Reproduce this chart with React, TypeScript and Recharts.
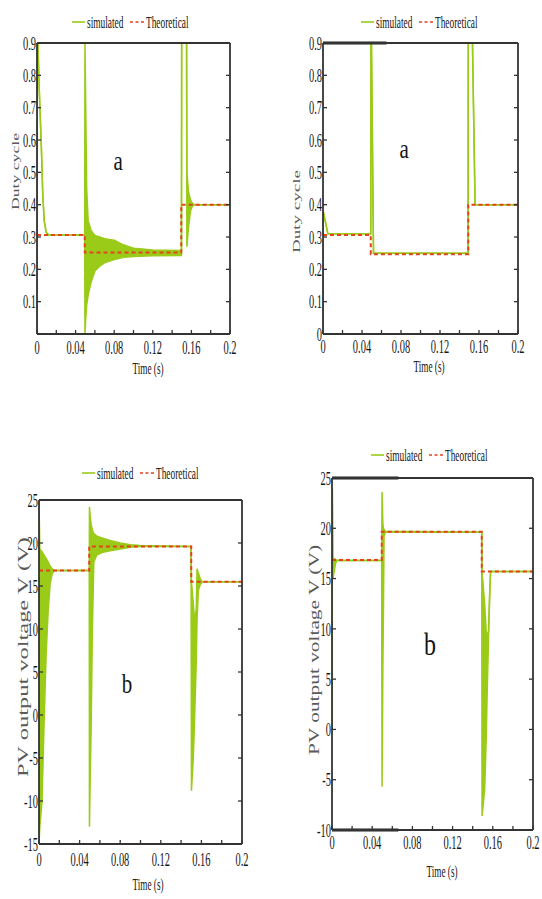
import {
  ComposedChart,
  Area,
  Line,
  XAxis,
  YAxis,
  Legend,
  Label,
  ReferenceDot,
  ReferenceLine,
} from 'recharts'

// Serif, horizontally squeezed text like the scanned figure
const FONT = '"Liberation Serif", "Times New Roman", serif'
const SX = 0.55
const TICK_FONT = 19
const TICK_LEN = 4
const INK = '#151515'
const GREEN = '#9acb18'
const RED = '#e4431e'
const FRAME = '#333'

// time axis: minor ticks every 0.02 s, labels every 0.04 s
const TIME_TICKS = [0, 0.02, 0.04, 0.06, 0.08, 0.1, 0.12, 0.14, 0.16, 0.18, 0.2]
const TIME_LABELS = ['0', '0.04', '0.08', '0.12', '0.16', '0.2']

const DUTY_TICKS = [0, 0.1, 0.2, 0.3, 0.4, 0.5, 0.6, 0.7, 0.8, 0.9]
const DUTY_LABELS_A1 = ['0.1', '0.2', '0.3', '0.4', '0.5', '0.6', '0.7', '0.8', '0.9']
const DUTY_LABELS_A2 = ['0', '0.1', '0.2', '0.3', '0.4', '0.5', '0.6', '0.7', '0.8', '0.9']
const VOLT_TICKS_B1 = [-15, -10, -5, 0, 5, 10, 15, 20, 25]
const VOLT_TICKS_B2 = [-10, -5, 0, 5, 10, 15, 20, 25]

// (a) left: duty cycle, simulated envelope (min / max of the ripple)
const SIM_A1_T = [0, 0.0003, 0.0009, 0.0024, 0.0045, 0.006, 0.0075, 0.0095, 0.012, 0.0494, 0.0497, 0.0505, 0.0515, 0.053, 0.056, 0.06, 0.065, 0.07, 0.08, 0.09, 0.1, 0.12, 0.1497, 0.1499, 0.155, 0.1553, 0.157, 0.159, 0.161, 0.163, 0.2]
const SIM_A1_LO = [0, 0.9, 0.9, 0.75, 0.58, 0.43, 0.35, 0.315, 0.306, 0.306, 0.0, 0.05, 0.09, 0.12, 0.16, 0.195, 0.21, 0.22, 0.23, 0.237, 0.24, 0.242, 0.243, 0.9, 0.9, 0.27, 0.33, 0.38, 0.395, 0.4, 0.4]
const SIM_A1_HI = [0, 0.9, 0.9, 0.75, 0.58, 0.43, 0.35, 0.315, 0.306, 0.306, 0.9, 0.7, 0.45, 0.35, 0.32, 0.305, 0.3, 0.295, 0.29, 0.275, 0.265, 0.26, 0.258, 0.9, 0.9, 0.5, 0.44, 0.415, 0.405, 0.4, 0.4]
const THEO_A1_T = [0, 0.0495, 0.1495, 0.2]
const THEO_A1_V = [0.306, 0.252, 0.4, 0.4]

// (a) right: duty cycle, proposed controller (no ripple)
const SIM_A2_T = [0, 0.0002, 0.005, 0.049, 0.0492, 0.0497, 0.0518, 0.1488, 0.149, 0.1533, 0.156, 0.2]
const SIM_A2_V = [0, 0.38, 0.31, 0.31, 0.9, 0.9, 0.25, 0.25, 0.9, 0.9, 0.4, 0.4]
const THEO_A2_T = [0, 0.049, 0.149, 0.2]
const THEO_A2_V = [0.306, 0.247, 0.4, 0.4]

// (b) left: PV voltage envelope
const SIM_B1_T = [0, 0.0008, 0.003, 0.005, 0.007, 0.009, 0.011, 0.013, 0.015, 0.0495, 0.0497, 0.0505, 0.0513, 0.0526, 0.054, 0.057, 0.062, 0.07, 0.08, 0.09, 0.1, 0.1498, 0.1502, 0.152, 0.153, 0.154, 0.155, 0.1557, 0.157, 0.159, 0.161, 0.2]
const SIM_B1_LO = [-15, -13, -10, -1, 7, 12, 15.3, 16.4, 16.8, 16.8, -13, -7, -2, 10, 17.8, 18.6, 18.9, 19.1, 19.3, 19.5, 19.6, 19.6, -8.8, -5, -1.5, 2.5, 6.5, 11, 14.5, 15.2, 15.5, 15.5]
const SIM_B1_HI = [25, 19.3, 19, 18.6, 18.2, 17.8, 17.3, 17.0, 16.8, 16.8, 24.2, 23, 22.2, 21.5, 21.1, 20.8, 20.6, 20.3, 20.0, 19.8, 19.7, 19.6, 15.5, 13, 11.5, 11.3, 12.5, 17, 16.5, 15.8, 15.5, 15.5]
const THEO_B1_T = [0, 0.0495, 0.15, 0.2]
const THEO_B1_V = [16.8, 19.6, 15.5, 15.5]

// (b) right: PV voltage envelope
const SIM_B2_T = [0, 0.0003, 0.0009, 0.002, 0.0035, 0.005, 0.0494, 0.0498, 0.0506, 0.0512, 0.0518, 0.053, 0.149, 0.1493, 0.1519, 0.1534, 0.1545, 0.1557, 0.157, 0.1578, 0.2]
const SIM_B2_LO = [0, 24, 15, 15.6, 16.5, 16.8, 16.8, -5.7, 6, 12, 19.2, 19.6, 19.6, -8.6, -6, -1, 4, 8.9, 13.5, 15.7, 15.7]
const SIM_B2_HI = [0, 24, 16.5, 17, 16.9, 16.8, 16.8, 23.6, 20.5, 20, 19.9, 19.7, 19.6, 15.7, 12.5, 9.8, 9.2, 9.8, 14, 15.7, 15.7]
const THEO_B2_T = [0, 0.0495, 0.149, 0.2]
const THEO_B2_V = [16.85, 19.66, 15.7, 15.7]

const envRows = (t: number[], lo: number[], hi: number[]) => t.map((x, i) => ({ t: x, range: [lo[i], hi[i]] }))
const theoRows = (t: number[], v: number[]) => t.map((x, i) => ({ t: x, v: v[i] }))

// ticks point into the plot on all four sides; labels only on bottom / left
const BottomTick = (p: any) => {
  const s = String(p.payload.value)
  return (
    <g>
      <line x1={p.x} x2={p.x} y1={p.y} y2={p.y - TICK_LEN} stroke={FRAME} strokeWidth={1.3} />
      {TIME_LABELS.includes(s) && (
        <text transform={`translate(${p.x},${p.y + p.dy0}) scale(${SX},1)`} textAnchor="middle" fontFamily={FONT} fontSize={TICK_FONT} fill={INK}>
          {s}
        </text>
      )}
    </g>
  )
}

const LeftTick = (p: any) => {
  const s = String(p.payload.value)
  return (
    <g>
      <line x1={p.x} x2={p.x + TICK_LEN} y1={p.y} y2={p.y} stroke={FRAME} strokeWidth={1.3} />
      {p.labels.includes(s) && (
        <text transform={`translate(${p.x - 1},${p.y}) scale(${SX},1)`} textAnchor="end" dy="0.35em" fontFamily={FONT} fontSize={TICK_FONT} fill={INK}>
          {s}
        </text>
      )}
    </g>
  )
}

const TopTick = (p: any) => <line x1={p.x} x2={p.x} y1={p.y} y2={p.y + TICK_LEN} stroke={FRAME} strokeWidth={1.3} />
const RightTick = (p: any) => <line x1={p.x - TICK_LEN} x2={p.x} y1={p.y} y2={p.y} stroke={FRAME} strokeWidth={1.3} />

const LegendBox = () => (
  <svg width={150} height={20} style={{ display: 'block' }}>
    <line x1={0} x2={13} y1={10} y2={10} stroke={GREEN} strokeWidth={1.6} />
    <text transform={`translate(15,16) scale(${SX},1)`} fontFamily={FONT} fontSize={17} fill={INK}>simulated</text>
    <line x1={58} x2={72} y1={10} y2={10} stroke={RED} strokeWidth={1.6} strokeDasharray="3 2.5" />
    <text transform={`translate(74,16) scale(${SX},1)`} fontFamily={FONT} fontSize={17} fill={INK}>Theoretical</text>
  </svg>
)

type Cfg = {
  x: number; y: number; w: number; h: number
  margin: { top: number; right: number; bottom: number; left: number }
  yWidth: number
  xTickDy: number
  xTitle: [number, number]
  yTitle: string
  yTitleStart: [number, number]
  yTitleLen: number
  yTitleSize: number
  yTitleScale: number
  legend: [number, number]
  letter: string
  letterAt: [number, number]
  letterSize: number
  bars: number[][]
}

function Panel({ cfg, sim, theo, yDomain, yTicks, yLabels }: any) {
  const c: Cfg = cfg
  const axisLine = { stroke: FRAME, strokeWidth: 1.8 }
  return (
    <div style={{ position: 'absolute', left: c.x, top: c.y }}>
      <ComposedChart width={c.w} height={c.h} margin={c.margin}>
        <XAxis
          dataKey="t" type="number" domain={[0, 0.2]} ticks={TIME_TICKS} interval={0} allowDataOverflow
          height={30} tickSize={0} tickMargin={0} axisLine={axisLine} tickLine={false}
          tick={(p: any) => <BottomTick {...p} dy0={c.xTickDy} />}
          label={
            <Label
              content={() => (
                <text transform={`translate(${c.xTitle[0]},${c.xTitle[1]}) scale(0.54,1)`} textAnchor="middle" fontFamily={FONT} fontSize={17} fill={INK}>
                  Time (s)
                </text>
              )}
            />
          }
        />
        <XAxis xAxisId="top" orientation="top" type="number" domain={[0, 0.2]} ticks={TIME_TICKS} interval={0} allowDataOverflow
          height={1} tickSize={0} tickMargin={0} axisLine={axisLine} tickLine={false} tick={TopTick} />
        <YAxis
          type="number" domain={yDomain} ticks={yTicks} interval={0} allowDataOverflow
          width={c.yWidth} tickSize={0} tickMargin={0} axisLine={axisLine} tickLine={false}
          tick={(p: any) => <LeftTick {...p} labels={yLabels} />}
          label={
            <Label
              content={() => (
                <text
                  transform={`translate(${c.yTitleStart[0]},${c.yTitleStart[1]}) scale(${c.yTitleScale},1) rotate(-90)`}
                  textAnchor="start" dy="0.35em" textLength={c.yTitleLen} lengthAdjust="spacingAndGlyphs"
                  fontFamily={FONT} fontSize={c.yTitleSize} fill="#5a5a5a"
                >
                  {c.yTitle}
                </text>
              )}
            />
          }
        />
        <YAxis yAxisId="r" orientation="right" type="number" domain={yDomain} ticks={yTicks} interval={0} allowDataOverflow
          width={1} tickSize={0} tickMargin={0} axisLine={axisLine} tickLine={false} tick={RightTick} />
        <Area
          data={sim} dataKey="range" type="linear" name="simulated"
          stroke={GREEN} strokeWidth={1.5} fill={GREEN} fillOpacity={1}
          dot={false} activeDot={false} isAnimationActive={false}
        />
        <Line
          data={theo} dataKey="v" type="stepAfter" name="Theoretical"
          stroke={RED} strokeWidth={2} strokeDasharray="4 3"
          dot={false} activeDot={false} isAnimationActive={false}
        />
        {c.bars.map((b, i) => (
          <ReferenceLine key={i} segment={[{ x: b[0], y: b[2] }, { x: b[1], y: b[2] }]} stroke="#222" strokeWidth={3} />
        ))}
        <ReferenceDot
          x={c.letterAt[0]} y={c.letterAt[1]} r={0}
          shape={(p: any) => (
            <text transform={`translate(${p.cx},${p.cy}) scale(0.75,1)`} textAnchor="middle" dy="0.3em" fontFamily={FONT} fontSize={c.letterSize} fill={INK}>
              {c.letter}
            </text>
          )}
        />
        <Legend
          layout="horizontal" verticalAlign="middle" align="center"
          wrapperStyle={{ position: 'absolute', left: c.legend[0], top: c.legend[1] - 10, width: 150, height: 20 }}
          content={() => <LegendBox />}
        />
      </ComposedChart>
    </div>
  )
}

const CFG_A1: Cfg = {
  x: 0, y: 0, w: 271, h: 400,
  margin: { top: 42, right: 40, bottom: 36, left: 0 }, yWidth: 37, xTickDy: 20,
  xTitle: [148, 374], yTitle: 'Duty cycle', yTitleStart: [15, 210], yTitleLen: 77, yTitleSize: 17, yTitleScale: 0.6,
  legend: [72, 22], letter: 'a', letterAt: [0.084, 0.532], letterSize: 28, bars: [],
}
const CFG_A2: Cfg = {
  x: 271, y: 0, w: 271, h: 400,
  margin: { top: 42, right: 23, bottom: 36, left: 0 }, yWidth: 52, xTickDy: 19,
  xTitle: [158, 372], yTitle: 'Duty cycle', yTitleStart: [25, 253], yTitleLen: 83, yTitleSize: 18, yTitleScale: 0.6,
  legend: [90, 22], letter: 'a', letterAt: [0.0833, 0.569], letterSize: 28, bars: [[0, 0.065, 0.9]],
}
const CFG_B1: Cfg = {
  x: 0, y: 430, w: 271, h: 469,
  margin: { top: 69, right: 28, bottom: 25, left: 0 }, yWidth: 39, xTickDy: 22,
  xTitle: [148, 460], yTitle: 'PV output voltage V (V)', yTitleStart: [23, 347], yTitleLen: 240, yTitleSize: 17, yTitleScale: 0.9,
  legend: [82, 43], letter: 'b', letterAt: [0.0868, 3.5], letterSize: 28, bars: [],
}
const CFG_B2: Cfg = {
  x: 271, y: 430, w: 271, h: 469,
  margin: { top: 47, right: 8, bottom: 39, left: 0 }, yWidth: 61, xTickDy: 19,
  xTitle: [171, 447], yTitle: 'PV output voltage V (V)', yTitleStart: [43, 325], yTitleLen: 210, yTitleSize: 17, yTitleScale: 0.9,
  legend: [100, 25], letter: 'b', letterAt: [0.0975, 8.4], letterSize: 32, bars: [[0, 0.066, 25], [0, 0.066, -10]],
}

export default function App() {
  return (
    <div style={{ position: 'absolute', left: 0, top: 0, width: 542, height: 899, background: '#fff' }}>
      <Panel cfg={CFG_A1} sim={envRows(SIM_A1_T, SIM_A1_LO, SIM_A1_HI)} theo={theoRows(THEO_A1_T, THEO_A1_V)}
        yDomain={[0, 0.9]} yTicks={DUTY_TICKS} yLabels={DUTY_LABELS_A1} />
      <Panel cfg={CFG_A2} sim={envRows(SIM_A2_T, SIM_A2_V, SIM_A2_V)} theo={theoRows(THEO_A2_T, THEO_A2_V)}
        yDomain={[0, 0.9]} yTicks={DUTY_TICKS} yLabels={DUTY_LABELS_A2} />
      <Panel cfg={CFG_B1} sim={envRows(SIM_B1_T, SIM_B1_LO, SIM_B1_HI)} theo={theoRows(THEO_B1_T, THEO_B1_V)}
        yDomain={[-15, 25]} yTicks={VOLT_TICKS_B1} yLabels={VOLT_TICKS_B1.map(String)} />
      <Panel cfg={CFG_B2} sim={envRows(SIM_B2_T, SIM_B2_LO, SIM_B2_HI)} theo={theoRows(THEO_B2_T, THEO_B2_V)}
        yDomain={[-10, 25]} yTicks={VOLT_TICKS_B2} yLabels={VOLT_TICKS_B2.map(String)} />
    </div>
  )
}
